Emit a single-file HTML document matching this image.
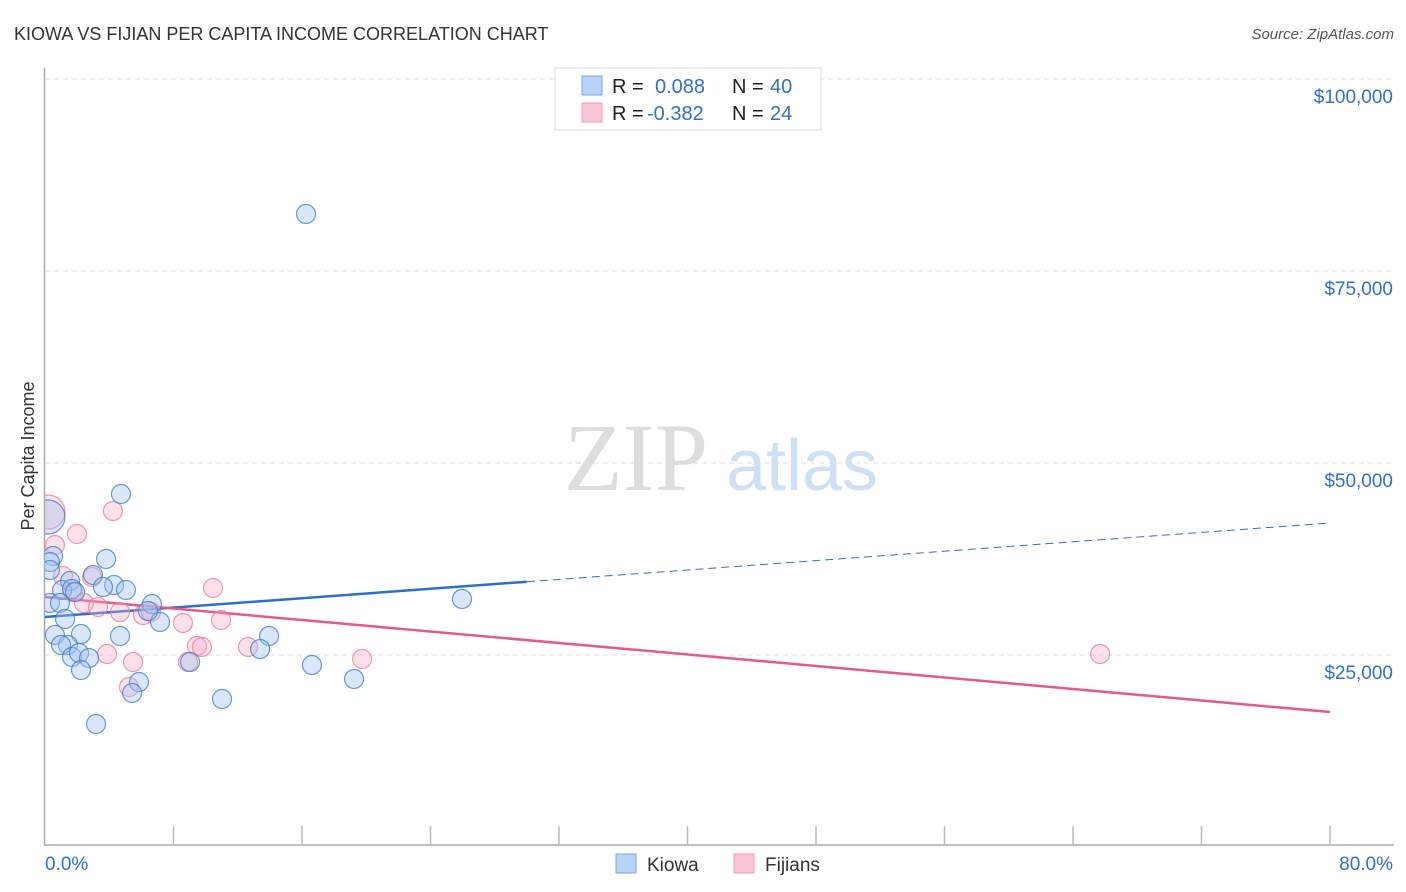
<!DOCTYPE html>
<html><head><meta charset="utf-8"><style>
body{margin:0;background:#fff;font-family:"Liberation Sans",sans-serif}
svg{display:block}
</style></head><body>
<svg id="chart" width="1406" height="892" viewBox="0 0 1406 892">
<text x="14" y="40" font-size="18" fill="#333">KIOWA VS FIJIAN PER CAPITA INCOME CORRELATION CHART</text>
<text x="1394" y="39" font-size="15" fill="#555" font-style="italic" text-anchor="end">Source: ZipAtlas.com</text>
<text transform="translate(34,456) rotate(-90)" font-size="18" fill="#333" text-anchor="middle">Per Capita Income</text>
<g>
<text x="636" y="490" font-size="96" font-family="Liberation Serif,serif" fill="#ddd" text-anchor="middle">ZIP</text>
<text x="802" y="490" font-size="72" fill="#cfe0f5" text-anchor="middle">atlas</text>
</g>
<defs><clipPath id="plotclip"><rect x="45" y="60" width="1360" height="785"/></clipPath></defs>
<g id="grid"></g>
<g id="axes"></g>
<g id="trends" clip-path="url(#plotclip)"></g>
<g id="points" clip-path="url(#plotclip)"></g>
<g>
<rect x="555" y="68" width="266" height="62" fill="#fff" stroke="#ddd"/>
<rect x="582" y="76" width="20" height="19" fill="#b8d3f7" stroke="#7aa6e6"/>
<rect x="582" y="103" width="20" height="19" fill="#fbc6d5" stroke="#ec9ab3"/>
<text x="612" y="93" font-size="20" fill="#222">R = </text><text x="655" y="93" font-size="20" fill="#2f6fd6">0.088</text>
<text x="732" y="93" font-size="20" fill="#222">N = </text><text x="770" y="93" font-size="20" fill="#2f6fd6">40</text>
<text x="612" y="120" font-size="20" fill="#222">R = </text><text x="647" y="120" font-size="20" fill="#2f6fd6">-0.382</text>
<text x="732" y="120" font-size="20" fill="#222">N = </text><text x="770" y="120" font-size="20" fill="#2f6fd6">24</text>
</g>
<g>
<rect x="616" y="854" width="20" height="19" fill="#b8d3f7" stroke="#7aa6e6"/>
<text x="647" y="871" font-size="19" fill="#333">Kiowa</text>
<rect x="734" y="854" width="20" height="19" fill="#fbc6d5" stroke="#ec9ab3"/>
<text x="765" y="871" font-size="19" fill="#333">Fijians</text>
</g>
</svg>
<script>
const yTicks=[25000,50000,75000,100000];
const yTickLabels=["$25,000","$50,000","$75,000","$100,000"];
const xTickCount=10;
const xLabels=["0.0%","80.0%"];
const kiowaX=[16.25,4.73,0.06,3.80,0.50,0.31,2.99,1.56,4.30,3.61,5.04,1.06,1.68,6.66,0.31,0.93,1.25,7.16,0.62,2.24,4.67,13.95,25.96,1.43,1.00,1.68,2.12,2.74,2.24,13.39,9.03,16.62,19.24,5.85,5.42,11.02,3.18,6.41,0.31,1.87];
const kiowaY=[82422,45964,42969,37500,37891,37109,35417,34635,34115,33854,33464,33464,33594,31641,31771,31771,29688,29297,27604,27734,27474,27474,32292,26302,26302,24740,25260,24609,23047,25781,24089,23698,21875,21484,20052,19271,16016,30729,36068,33203];
const fijiX=[0.06,4.23,1.99,0.62,1.12,2.93,1.74,2.43,3.30,4.67,6.10,6.60,8.59,10.96,10.46,9.46,9.77,12.64,3.86,5.48,8.90,19.74,5.23,65.69];
const fijiY=[43620,43750,40755,39323,35286,35156,33203,31771,31250,30599,30208,30599,29167,29557,33724,26172,26042,26042,25130,24089,24089,24479,20833,25130];
const kiowaTrend=[29948,42188];
const fijiTrend=[32552,17578];
const kiowaSolidEnd=30;
const NS="http://www.w3.org/2000/svg";
const X0=45,X1=1330,YB=845;
function xs(v){return X0+(v/80)*(X1-X0);}
function ys(v){return 655-(v-25000)*192/25000;}
function mk(tag,attrs,parent){const e=document.createElementNS(NS,tag);for(const k in attrs)e.setAttribute(k,attrs[k]);parent.appendChild(e);return e;}
const grid=document.getElementById('grid'),axes=document.getElementById('axes');
yTicks.forEach((t,i)=>{
 const g=mk('line',{x1:45,x2:1394,y1:ys(t),y2:ys(t),stroke:'#ddd','stroke-dasharray':'5,4'},grid);
 
 
 const tx=mk('text',{x:1393,y:ys(t)+24,'font-size':19,fill:'#2f6fd6','text-anchor':'end'},axes);
 tx.textContent=yTickLabels[i];
 
 
});
const ya=mk('line',{x1:44.5,x2:44.5,y1:68,y2:YB,stroke:'#aaa','stroke-width':1.5},axes);


const xa=mk('line',{x1:44,x2:1394,y1:YB,y2:YB,stroke:'#aaa','stroke-width':1.5},axes);


for(let i=1;i<=xTickCount;i++){
 const x=xs(i*8);
 const t=mk('line',{x1:x,x2:x,y1:826,y2:YB,stroke:'#bbb','stroke-width':1.5},axes);
 
 
}
const xl0=mk('text',{x:45,y:870,'font-size':19,fill:'#2f6fd6'},axes);xl0.textContent=xLabels[0];


const xl1=mk('text',{x:1393,y:870,'font-size':19,fill:'#2f6fd6','text-anchor':'end'},axes);xl1.textContent=xLabels[1];


const pts=document.getElementById('points');
function drawSeries(X,Y,fill,stroke,name){
 X.forEach((x,i)=>{
  const r=(x<0.2)?17:9.5;
  const c=mk('circle',{cx:xs(x)+(x<0.2?2:0),cy:ys(Y[i]),r:r,fill:fill,stroke:stroke,'stroke-width':1.2},pts);
  
  
 });
}
drawSeries(fijiX,fijiY,'rgba(248,170,195,0.35)','rgba(232,120,155,0.75)','fijians-point');
drawSeries(kiowaX,kiowaY,'rgba(160,195,240,0.4)','rgba(60,120,210,0.75)','kiowa-point');
const tr=document.getElementById('trends');
const lerp=(a,b,t)=>a+(b-a)*t;
const ks=mk('line',{x1:xs(0),y1:ys(kiowaTrend[0]),x2:xs(kiowaSolidEnd),y2:ys(lerp(kiowaTrend[0],kiowaTrend[1],kiowaSolidEnd/80)),stroke:'#2a6fd4','stroke-width':2.5},tr);


const kd=mk('line',{x1:xs(kiowaSolidEnd),y1:ys(lerp(kiowaTrend[0],kiowaTrend[1],kiowaSolidEnd/80)),x2:xs(80),y2:ys(kiowaTrend[1]),stroke:'#2a6fd4','stroke-width':1,'stroke-dasharray':'8,5'},tr);


const fl=mk('line',{x1:xs(0),y1:ys(fijiTrend[0]),x2:xs(80),y2:ys(fijiTrend[1]),stroke:'#e55a8a','stroke-width':2.5},tr);


</script>
</body></html>
